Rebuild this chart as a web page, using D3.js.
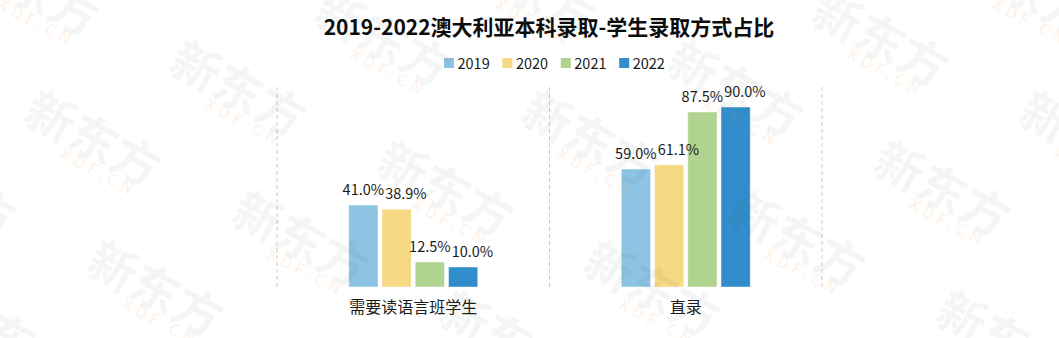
<!DOCTYPE html>
<html>
<head>
<meta charset="utf-8">
<script src="https://cdn.jsdelivr.net/npm/d3@7"></script>
<style>
  html, body { margin: 0; padding: 0; background: #ffffff; }
  svg { display: block; }
</style>
</head>
<body>
<div id="chart"></div>
<script>
// Admission routes for Australian undergraduate students, 2019–2022 (share, %)
const categories = ["需要读语言班学生", "直录"];
const years = ["2019", "2020", "2021", "2022"];
const values2019 = [41.0, 59.0];
const values2020 = [38.9, 61.1];
const values2021 = [12.5, 87.5];
const values2022 = [10.0, 90.0];
const seriesValues = [values2019, values2020, values2021, values2022];
const yearColors = ["#8dc3e3", "#f7d883", "#b0d38f", "#318dcb"];
const titleText = "2019-2022澳大利亚本科录取-学生录取方式占比";

const W = 1059, H = 338;
const FONT = "'Noto Sans CJK SC', 'Noto Sans', sans-serif";

const svg = d3.select("#chart").append("svg")
  .attr("width", W).attr("height", H)
  .attr("viewBox", `0 0 ${W} ${H}`);

// Scales
const x0 = d3.scaleBand().domain(categories).range([277, 822]).padding(0);
const groupWidth = 129;
const x1 = d3.scaleBand().domain(years)
  .range([x0.bandwidth() / 2 - groupWidth / 2, x0.bandwidth() / 2 + groupWidth / 2])
  .paddingInner(0.12);
const y = d3.scaleLinear().domain([0, 100]).range([287, 87]);

// Title
svg.append("text")
  .attr("x", 549).attr("y", 35)
  .attr("text-anchor", "middle")
  .attr("font-family", FONT)
  .attr("font-weight", "bold")
  .attr("font-size", 21)
  .attr("fill", "#0d0d0d")
  .text(titleText);

// Legend
const legend = svg.append("g").attr("transform", "translate(444,58)");
const item = legend.selectAll("g.item").data(years).join("g")
  .attr("class", "item")
  .attr("transform", (d, i) => `translate(${i * 58.4},0)`);
item.append("rect")
  .attr("width", 10).attr("height", 10)
  .attr("fill", (d, i) => yearColors[i]);
item.append("text")
  .attr("x", 13.5).attr("y", 10.5)
  .attr("font-family", FONT)
  .attr("font-size", 14.5)
  .attr("fill", "#1a1a1a")
  .text(d => d);

// Dashed category separators
const separators = [x0.range()[0], ...categories.map(c => x0(c) + x0.bandwidth())];
svg.append("g").selectAll("line").data(separators).join("line")
  .attr("x1", d => d).attr("x2", d => d)
  .attr("y1", y(100)).attr("y2", y(0))
  .attr("stroke", "#c9c9c9")
  .attr("stroke-width", 1)
  .attr("stroke-dasharray", "4,3");

// Bars
const rows = [];
categories.forEach((c, ci) => {
  years.forEach((yr, yi) => {
    rows.push({ category: c, year: yr, value: seriesValues[yi][ci], color: yearColors[yi] });
  });
});

const groups = svg.append("g").selectAll("g.grp").data(categories).join("g")
  .attr("class", "grp")
  .attr("transform", c => `translate(${x0(c)},0)`);

groups.selectAll("rect").data(c => rows.filter(r => r.category === c)).join("rect")
  .attr("x", d => x1(d.year))
  .attr("y", d => y(d.value))
  .attr("width", x1.bandwidth())
  .attr("height", d => y(0) - y(d.value))
  .attr("fill", d => d.color)
  .attr("stroke", "rgba(255,255,255,0.45)")
  .attr("stroke-width", 1);

// Value labels: placed above each bar, then nudged sideways so neighbours don't collide
const labelGap = 10;
groups.each(function (c) {
  const g = d3.select(this);
  const data = rows.filter(r => r.category === c);
  const labels = g.selectAll("text.val").data(data).join("text")
    .attr("class", "val")
    .attr("x", d => x1(d.year) + x1.bandwidth() / 2)
    .attr("y", d => y(d.value) - labelGap)
    .attr("text-anchor", "middle")
    .attr("font-family", FONT)
    .attr("font-size", 14.5)
    .attr("fill", "#1a1a1a")
    .text(d => d.value.toFixed(1) + "%");
  const nodes = labels.nodes();
  let prev = null;
  nodes.forEach(n => {
    const bb = n.getBBox();
    if (prev) {
      const overlapX = prev.x + prev.width + 1 - bb.x;
      const overlapY = Math.min(prev.y + prev.height, bb.y + bb.height) - Math.max(prev.y, bb.y);
      if (overlapX > 0 && overlapY > 2) {
        n.setAttribute("x", +n.getAttribute("x") + overlapX);
        bb.x += overlapX;
      }
    }
    prev = bb;
  });
});

// Category axis labels
svg.append("g").selectAll("text").data(categories).join("text")
  .attr("x", c => x0(c) + x0.bandwidth() / 2)
  .attr("y", 313)
  .attr("text-anchor", "middle")
  .attr("font-family", FONT)
  .attr("font-size", 16)
  .attr("fill", "#1a1a1a")
  .text(c => c);

// Brand watermark tiled over the canvas
const wm = svg.append("g").attr("pointer-events", "none");
const origin = [93, 140], a = [145, -50], b = [62, 150];
const marks = [];
for (let i = -4; i <= 12; i++) {
  for (let j = -3; j <= 4; j++) {
    const cx = origin[0] + i * a[0] + j * b[0];
    const cy = origin[1] + i * a[1] + j * b[1];
    if (cx > -90 && cx < W + 90 && cy > -70 && cy < H + 70) marks.push([cx, cy]);
  }
}
const mark = wm.selectAll("g").data(marks).join("g")
  .attr("transform", d => `translate(${d[0]},${d[1]}) rotate(28)`);
mark.append("text")
  .attr("text-anchor", "middle")
  .attr("dy", "0.35em")
  .attr("font-family", FONT)
  .attr("font-weight", "bold")
  .attr("font-size", 48)
  .attr("fill", "rgba(40,95,65,0.055)")
  .text("新东方");
mark.append("text")
  .attr("x", 20).attr("y", 26)
  .attr("text-anchor", "middle")
  .attr("dy", "0.35em")
  .attr("font-family", FONT)
  .attr("font-weight", "bold")
  .attr("font-size", 17)
  .attr("letter-spacing", 4)
  .attr("fill", "rgba(245,140,60,0.09)")
  .text("XDF.CN");
</script>
</body>
</html>
